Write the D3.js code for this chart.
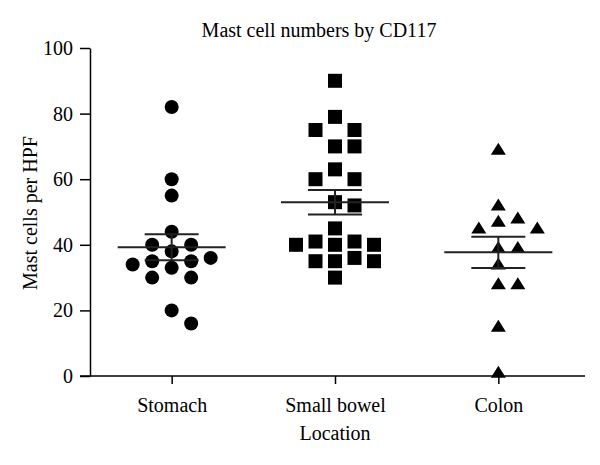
<!DOCTYPE html>
<html>
<head>
<meta charset="utf-8">
<script src="https://cdn.jsdelivr.net/npm/d3@7"></script>
<style>
    body { margin: 0; background: #fff; }
    text { font-family: 'Liberation Serif', 'DejaVu Serif', serif; fill: #000; }
    .axis path, .axis line { stroke: #000; stroke-width: 1.5; }
    .axis text { font-size: 20px; }
</style>
</head>
<body>
<div id="vis"></div>
<script>
// values
var categories = ['Stomach', 'Small bowel', 'Colon'];
var stomach = [82, 60, 55, 44, 40, 40, 38, 36, 35, 35, 34, 33, 30, 30, 20, 16];
var smallBowel = [90, 79, 75, 75, 70, 70, 63, 60, 60, 53, 52, 45, 41, 41, 40, 40, 40, 36, 35, 35, 35, 30];
var colon = [69, 52, 48, 47, 45, 45, 39, 39, 34, 28, 28, 15, 1];
var yTicks = [0, 20, 40, 60, 80, 100];

var margin = { left: 90, top: 48, right: 15, bottom: 89 };
var width = 600 - margin.left - margin.right;
var height = 465 - margin.top - margin.bottom;

var svg = d3.select('#vis')
    .append('svg')
    .attr('width', 600)
    .attr('height', 465);

var g = svg.append('g')
    .attr('transform', 'translate(' + margin.left + ',' + margin.top + ')');

var xScale = d3.scalePoint()
    .domain(categories)
    .range([0, width - 5])
    .padding(0.5);

var yScale = d3.scaleLinear()
    .domain([0, 100])
    .range([height, 0]);

/* ****** Axes ****** */
var yAxis = d3.axisLeft(yScale)
    .tickValues(yTicks)
    .tickSize(10)
    .tickSizeOuter(0)
    .tickPadding(7);

g.append('g')
    .attr('class', 'axis')
    .call(yAxis);

var xAxis = d3.axisBottom(xScale)
    .tickSize(8)
    .tickSizeOuter(0)
    .tickPadding(14);

var xg = g.append('g')
    .attr('class', 'axis')
    .attr('transform', 'translate(0,' + height + ')')
    .call(xAxis);
xg.select('.domain').remove();
xg.append('line')
    .attr('x1', -10)
    .attr('x2', width)
    .attr('y1', 0)
    .attr('y2', 0);

/* ****** Titles ****** */
svg.append('text')
    .attr('x', 319)
    .attr('y', 37)
    .attr('text-anchor', 'middle')
    .style('font-size', '20px')
    .text('Mast cell numbers by CD117');

svg.append('text')
    .attr('x', margin.left + xScale('Small bowel'))
    .attr('y', 440)
    .attr('text-anchor', 'middle')
    .style('font-size', '20px')
    .text('Location');

svg.append('text')
    .attr('transform', 'translate(37,213) rotate(-90)')
    .attr('text-anchor', 'middle')
    .style('font-size', '20px')
    .text('Mast cells per HPF');

/* ****** Spread points sideways like a dot plot ****** */
var slot = 19.5;
var order = [0, 1, -1, 2, -2, 0.5, -0.5, 1.5, -1.5, 3, -3, 2.5, -2.5, 4, -4];
var swarm = function(values) {
    var placed = [];
    values.forEach(function(v) {
        var py = yScale(v);
        var found = order.map(function(k) { return k * slot; }).find(function(px) {
            return !placed.some(function(p) {
                var dx = (p.x - px) / 16;
                var dy = (p.y - py) / 14;
                return dx * dx + dy * dy < 1;
            });
        });
        placed.push({ x: found === undefined ? 0 : found, y: py, v: v });
    });
    return placed;
};

var groups = [
    { name: 'Stomach', values: stomach, shape: 'circle' },
    { name: 'Small bowel', values: smallBowel, shape: 'square' },
    { name: 'Colon', values: colon, shape: 'triangle' }
];

var shapePath = {
    circle: d3.symbol().type(d3.symbolCircle).size(Math.PI * 49)(),
    square: 'M-7,-7H7V7H-7Z',
    triangle: 'M0,-7L7.5,5L-7.5,5Z'
};

groups.forEach(function(grp) {
    var cx = xScale(grp.name);
    var pts = swarm(grp.values);

    g.selectAll('.pt-' + grp.shape)
        .data(pts)
        .enter()
        .append('path')
        .attr('d', shapePath[grp.shape])
        .attr('fill', '#000')
        .attr('transform', function(d) {
            return 'translate(' + (cx + d.x) + ',' + d.y + ')';
        });

    // mean and SEM
    var mean = d3.mean(grp.values);
    var sem = d3.deviation(grp.values) / Math.sqrt(grp.values.length);
    var lines = g.append('g')
        .attr('stroke', '#222')
        .attr('stroke-width', 2);
    lines.append('line')
        .attr('x1', cx - 54).attr('x2', cx + 54)
        .attr('y1', yScale(mean)).attr('y2', yScale(mean));
    lines.append('line')
        .attr('x1', cx).attr('x2', cx)
        .attr('y1', yScale(mean - sem)).attr('y2', yScale(mean + sem));
    [mean - sem, mean + sem].forEach(function(v) {
        lines.append('line')
            .attr('x1', cx - 27).attr('x2', cx + 27)
            .attr('y1', yScale(v)).attr('y2', yScale(v));
    });
});
</script>
</body>
</html>
